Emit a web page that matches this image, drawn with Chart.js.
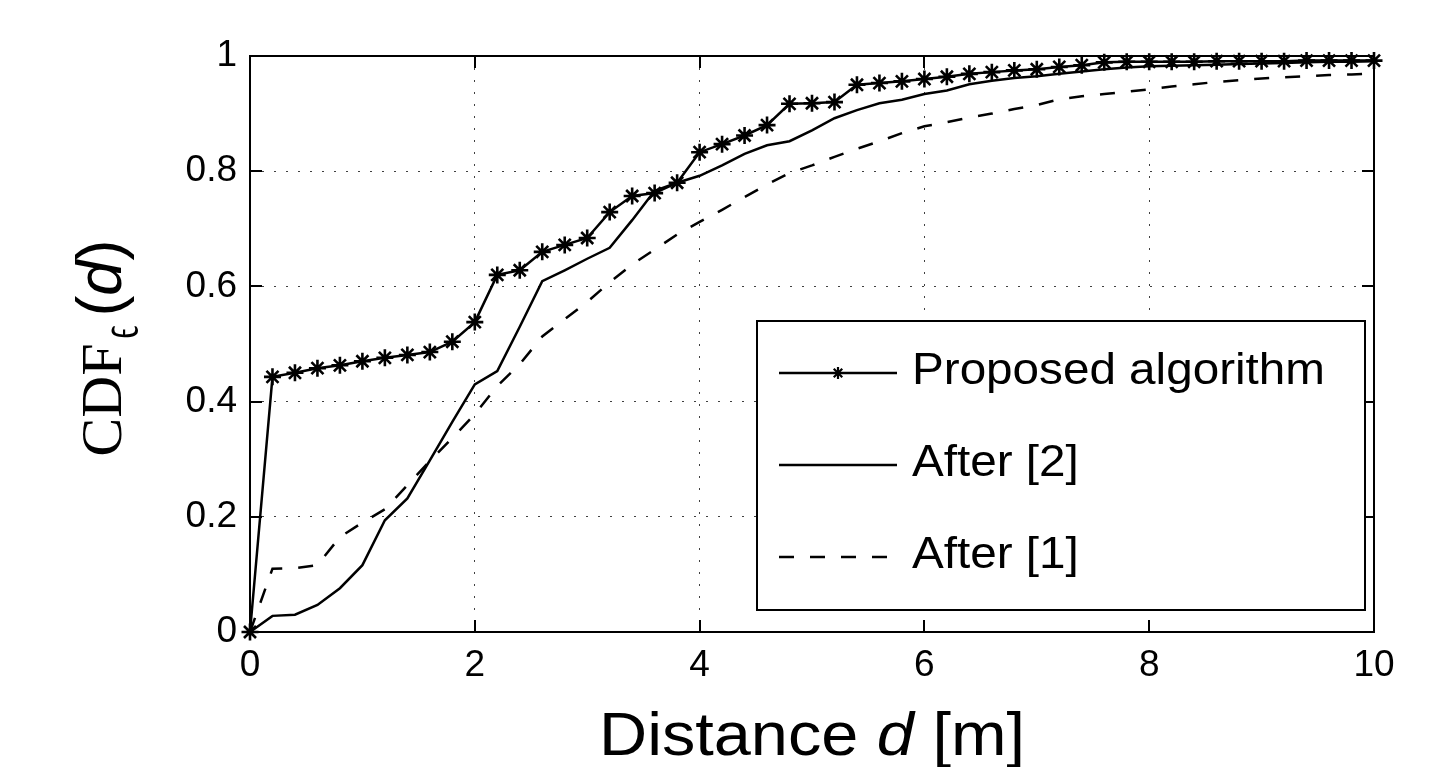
<!DOCTYPE html>
<html>
<head>
<meta charset="utf-8">
<script src="https://cdn.jsdelivr.net/npm/chart.js@4.4.1/dist/chart.umd.min.js"></script>
<style>
  html, body { margin: 0; padding: 0; background: #ffffff; }
  #wrap { width: 1445px; height: 767px; }
</style>
</head>
<body>
<div id="wrap"><canvas id="c" width="1445" height="767"></canvas></div>
<script>
// ---------------- data ----------------
const distance = [0, 0.2, 0.4, 0.6, 0.8, 1.0, 1.2, 1.4, 1.6, 1.8,
                  2.0, 2.2, 2.4, 2.6, 2.8, 3.0, 3.2, 3.4, 3.6, 3.8,
                  4.0, 4.2, 4.4, 4.6, 4.8, 5.0, 5.2, 5.4, 5.6, 5.8,
                  6.0, 6.2, 6.4, 6.6, 6.8, 7.0, 7.2, 7.4, 7.6, 7.8,
                  8.0, 8.2, 8.4, 8.6, 8.8, 9.0, 9.2, 9.4, 9.6, 9.8, 10.0];

const proposed = [0, 0.443, 0.450, 0.458, 0.463, 0.470, 0.476, 0.481, 0.486, 0.504,
                  0.538, 0.620, 0.628, 0.660, 0.672, 0.684, 0.729, 0.757, 0.762, 0.780,
                  0.833, 0.847, 0.862, 0.880, 0.917, 0.918, 0.920, 0.950, 0.953, 0.956,
                  0.960, 0.964, 0.969, 0.972, 0.975, 0.977, 0.981, 0.984, 0.989, 0.990,
                  0.990, 0.990, 0.990, 0.991, 0.991, 0.991, 0.991, 0.992, 0.992, 0.992, 0.992];

const after2 = [0, 0.028, 0.030, 0.047, 0.076, 0.116, 0.194, 0.232, 0.298, 0.365,
                0.430, 0.453, 0.530, 0.609, 0.628, 0.648, 0.667, 0.715, 0.766, 0.780,
                0.792, 0.810, 0.830, 0.845, 0.852, 0.871, 0.892, 0.906, 0.918, 0.924,
                0.934, 0.940, 0.951, 0.957, 0.962, 0.965, 0.969, 0.973, 0.977, 0.980,
                0.982, 0.983, 0.984, 0.985, 0.986, 0.987, 0.988, 0.989, 0.990, 0.990, 0.991];

const after1 = [0, 0.110, 0.111, 0.116, 0.165, 0.190, 0.213, 0.255, 0.297, 0.337,
                0.378, 0.427, 0.465, 0.513, 0.543, 0.573, 0.607, 0.638, 0.664, 0.690,
                0.712, 0.733, 0.755, 0.777, 0.797, 0.810, 0.825, 0.839, 0.852, 0.866,
                0.878, 0.885, 0.893, 0.900, 0.908, 0.915, 0.925, 0.930, 0.934, 0.938,
                0.942, 0.947, 0.951, 0.955, 0.958, 0.961, 0.963, 0.965, 0.967, 0.968, 0.970];

const seriesNames = ['Proposed algorithm', 'After [2]', 'After [1]'];
const xTickValues = [0, 2, 4, 6, 8, 10];
const xTickLabels = ['0', '2', '4', '6', '8', '10'];
const yTickValues = [0, 0.2, 0.4, 0.6, 0.8, 1];
const yTickLabels = ['0', '0.2', '0.4', '0.6', '0.8', '1'];
const xTitleParts = ['Distance ', 'd', ' [m]'];
const yTitleParts = ['CDF', 'ϵ', '(', 'd', ')'];

// ---------------- helpers ----------------
const SANS = '"Liberation Sans", Arial, Helvetica, sans-serif';
const SERIF = '"Liberation Serif", "Times New Roman", serif';
const toXY = (ys) => distance.map((x, i) => ({ x: x, y: ys[i] }));

// frame + inward ticks
const framePlugin = {
  id: 'frame',
  beforeDatasetsDraw(chart) {
    const { ctx, chartArea: a, scales } = chart;
    ctx.save();
    ctx.strokeStyle = '#000';
    ctx.lineWidth = 2;
    ctx.beginPath();
    xTickValues.forEach(v => {
      const px = Math.round(scales.x.getPixelForValue(v));
      ctx.moveTo(px, a.bottom); ctx.lineTo(px, a.bottom - 12);
      ctx.moveTo(px, a.top); ctx.lineTo(px, a.top + 12);
    });
    yTickValues.forEach(v => {
      const py = Math.round(scales.y.getPixelForValue(v));
      ctx.moveTo(a.left, py); ctx.lineTo(a.left + 12, py);
      ctx.moveTo(a.right, py); ctx.lineTo(a.right - 12, py);
    });
    ctx.stroke();
    ctx.strokeRect(a.left, a.top, a.right - a.left, a.bottom - a.top);
    ctx.restore();
  }
};

function drawStar(ctx, x, y, r) {
  ctx.beginPath();
  for (let k = 0; k < 4; k++) {
    const ang = k * Math.PI / 4;
    ctx.moveTo(x - r * Math.sin(ang), y - r * Math.cos(ang));
    ctx.lineTo(x + r * Math.sin(ang), y + r * Math.cos(ang));
  }
  ctx.stroke();
}

// legend + axis titles
const annotPlugin = {
  id: 'annot',
  afterDraw(chart) {
    const { ctx, chartArea: a } = chart;
    ctx.save();
    // ----- legend box -----
    const bx = 757, by = 321, bw = 608, bh = 289;
    ctx.fillStyle = '#fff';
    ctx.fillRect(bx, by, bw, bh);
    ctx.strokeStyle = '#000';
    ctx.lineWidth = 2;
    ctx.strokeRect(bx, by, bw, bh);

    const rowsY = [373, 465, 557];
    const lx1 = 779, lx2 = 897;
    ctx.font = '45px ' + SANS;
    const natural = ctx.measureText(seriesNames[0]).width;
    const sx = 413 / natural;
    chart.data.datasets.forEach((ds, i) => {
      const y = rowsY[i];
      ctx.strokeStyle = '#000';
      ctx.lineWidth = 2.5;
      ctx.setLineDash(ds.borderDash || []);
      ctx.beginPath();
      ctx.moveTo(lx1, y); ctx.lineTo(lx2, y);
      ctx.stroke();
      ctx.setLineDash([]);
      if (ds.pointRadius > 0) { ctx.lineWidth = 2.2; drawStar(ctx, (lx1 + lx2) / 2, y, 6); }
      ctx.save();
      ctx.translate(912, y + 11);
      ctx.scale(sx, 1);
      ctx.fillStyle = '#000';
      ctx.textBaseline = 'alphabetic';
      ctx.textAlign = 'left';
      ctx.fillText(seriesNames[i], 0, 0);
      ctx.restore();
    });

    // ----- x title -----
    ctx.fillStyle = '#000';
    ctx.textBaseline = 'alphabetic';
    ctx.textAlign = 'left';
    const xFonts = ['61px ' + SANS, 'italic 61px ' + SANS, '61px ' + SANS];
    let widths = xTitleParts.map((t, i) => { ctx.font = xFonts[i]; return ctx.measureText(t).width; });
    let total = widths.reduce((s, w) => s + w, 0);
    const xsx = 426 / total;
    ctx.save();
    ctx.translate((a.left + a.right) / 2 - total * xsx / 2, 755);
    ctx.scale(xsx, 1);
    let cx = 0;
    xTitleParts.forEach((t, i) => { ctx.font = xFonts[i]; ctx.fillText(t, cx, 0); cx += widths[i]; });
    ctx.restore();

    // ----- y title (rotated) -----
    const yFonts = ['58px ' + SERIF, '32px ' + SERIF, '63px ' + SANS, 'italic 63px ' + SANS, '63px ' + SANS];
    const yShift = [0, 16, 0, 0, 0];
    const yStretch = [1, 1.7, 1, 1, 1];
    const yGap = [5, 9, 0, 0, 0];
    widths = yTitleParts.map((t, i) => { ctx.font = yFonts[i]; return ctx.measureText(t).width; });
    total = widths.reduce((s, w, i) => s + w + yGap[i], 0);
    ctx.save();
    ctx.translate(121, (a.top + a.bottom) / 2 + 4);
    ctx.rotate(-Math.PI / 2);
    cx = -total / 2;
    yTitleParts.forEach((t, i) => {
      ctx.font = yFonts[i];
      ctx.save();
      ctx.translate(cx, yShift[i]);
      ctx.scale(1, yStretch[i]);
      ctx.fillText(t, 0, 0);
      ctx.restore();
      cx += widths[i] + yGap[i];
    });
    ctx.restore();
    ctx.restore();
  }
};

new Chart(document.getElementById('c'), {
  type: 'line',
  data: {
    datasets: [
      {
        label: seriesNames[0],
        data: toXY(proposed),
        borderColor: '#000',
        borderWidth: 2.5,
        pointStyle: 'star',
        pointRadius: 8.5,
        pointBorderWidth: 2.6,
        pointBorderColor: '#000',
        pointBackgroundColor: '#000',
        tension: 0,
        clip: false,
        order: 0
      },
      {
        label: seriesNames[1],
        data: toXY(after2),
        borderColor: '#000',
        borderWidth: 2.5,
        pointRadius: 0,
        tension: 0,
        clip: false,
        order: 1
      },
      {
        label: seriesNames[2],
        data: toXY(after1),
        borderColor: '#000',
        borderWidth: 2.5,
        borderDash: [15, 16],
        pointRadius: 0,
        tension: 0,
        clip: false,
        order: 2
      }
    ]
  },
  options: {
    responsive: false,
    animation: false,
    devicePixelRatio: 1,
    layout: { padding: { left: 0, top: 56, right: 71, bottom: 0 } },
    plugins: { legend: { display: false }, tooltip: { enabled: false } },
    scales: {
      x: {
        type: 'linear',
        min: 0, max: 10,
        afterBuildTicks: (s) => { s.ticks = xTickValues.map(v => ({ value: v })); },
        afterFit: (s) => { s.height = 135; },
        ticks: {
          autoSkip: false,
          maxRotation: 0,
          padding: 12,
          color: '#000',
          font: { family: SANS, size: 37 },
          callback: (v, i) => xTickLabels[i]
        },
        grid: { color: 'rgba(0,0,0,0.75)', lineWidth: 1, drawTicks: false },
        border: { display: false, dash: [2, 10] }
      },
      y: {
        type: 'linear',
        min: 0, max: 1,
        afterBuildTicks: (s) => { s.ticks = yTickValues.map(v => ({ value: v })); },
        afterFit: (s) => { s.width = 250; },
        ticks: {
          autoSkip: false,
          padding: 13,
          color: '#000',
          font: { family: SANS, size: 37 },
          callback: (v, i) => yTickLabels[i]
        },
        grid: { color: 'rgba(0,0,0,0.75)', lineWidth: 1, drawTicks: false },
        border: { display: false, dash: [2, 10] }
      }
    }
  },
  plugins: [framePlugin, annotPlugin]
});
</script>
</body>
</html>
